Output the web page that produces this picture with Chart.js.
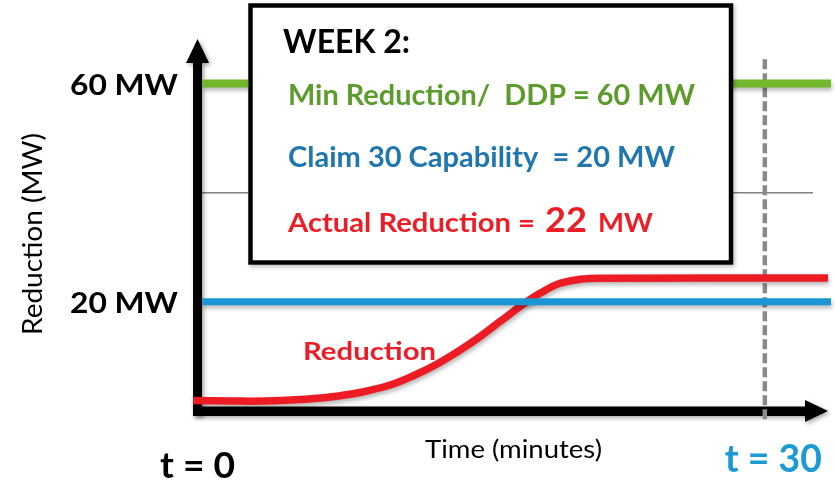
<!DOCTYPE html>
<html><head><meta charset="utf-8">
<script src="https://cdn.jsdelivr.net/npm/chart.js@4/dist/chart.umd.min.js"></script>
<style>html,body{margin:0;padding:0;background:#fff;overflow:hidden}</style>
</head><body>
<canvas id="c" width="835" height="484"></canvas>
<script>
// ---- data ----
const timeMinutes = [-0.24, 1.72, 3.57, 5.42, 7.01, 8.58, 10.18, 11.5, 12.67, 13.88, 14.94, 15.99, 17.21, 18.11, 19.17, 20.23, 21.29, 33.34];
const reductionMW = [1.92,  1.83, 1.83, 2.11, 2.57, 3.39, 4.76,  6.6,  8.61,  11.14, 13.63, 16.38, 19.54, 21.57, 23.4,  24.13, 24.33, 24.35];
const minReductionMW = 60;
const claim30MW = 20;
const gridMW = 40;
const levelSpanMinutes = [0.24, 33.5];
const gridSpanMinutes = [0, 32.55];
const deadlineMinutes = 30;
const deadlineSpanMW = [-1.5, 65];
const yTickValues = [60, 20];
const yTickLabels = ['60 MW', '20 MW'];
const xTickValues = [0, 30];
const xTickLabels = ['t = 0', 't = 30'];
const yTitle = 'Reduction (MW)';
const xTitle = 'Time (minutes)';
const curveLabel = 'Reduction';
const boxTitle = 'WEEK 2:';
const boxLine1 = 'Min Reduction/  DDP = 60 MW';
const boxLine2 = 'Claim 30 Capability  = 20 MW';
const boxLine3a = 'Actual Reduction =';
const boxLine3b = '22';
const boxLine3c = 'MW';

const F = 'Lato, "Open Sans", sans-serif';

function txt(ctx, s, x, base, font, color, w, align) {
  ctx.save();
  ctx.font = font; ctx.fillStyle = color; ctx.textBaseline = 'alphabetic'; ctx.textAlign = 'left';
  const m = ctx.measureText(s).width;
  const sx = w ? w / m : 1;
  let x0 = x;
  if (align === 'center') x0 = x - (w || m) / 2;
  if (align === 'right') x0 = x - (w || m);
  ctx.translate(x0, base); ctx.scale(sx, 1); ctx.fillText(s, 0, 0);
  ctx.restore();
}

const shadowSet = new Set([0, 1, 2]);
const decor = {
  id: 'decor',
  beforeDatasetsDraw(chart) {
    const {ctx, scales: {x, y}} = chart;
    ctx.save();
    ctx.strokeStyle = '#808080'; ctx.lineWidth = 1.5;
    ctx.beginPath();
    ctx.moveTo(x.getPixelForValue(gridSpanMinutes[0]), y.getPixelForValue(gridMW));
    ctx.lineTo(x.getPixelForValue(gridSpanMinutes[1]), y.getPixelForValue(gridMW));
    ctx.stroke();
    ctx.restore();
    const x0 = x.getPixelForValue(0), y0 = y.getPixelForValue(0);
    ctx.save();
    ctx.shadowColor = 'rgba(0,0,0,0.35)'; ctx.shadowBlur = 4; ctx.shadowOffsetX = 2; ctx.shadowOffsetY = 2;
    ctx.fillStyle = '#000';
    ctx.fillRect(x0 - 4.5, 60, 9, y0 + 5 - 60);
    ctx.beginPath(); ctx.moveTo(x0, 39); ctx.lineTo(x0 + 11.5, 63); ctx.lineTo(x0 - 11.5, 63); ctx.closePath(); ctx.fill();
    ctx.fillRect(x0 - 4.5, y0 - 4.5, 806 - (x0 - 4.5), 9.5);
    ctx.beginPath(); ctx.moveTo(828, y0); ctx.lineTo(805, y0 - 11); ctx.lineTo(805, y0 + 11); ctx.closePath(); ctx.fill();
    ctx.restore();
  },
  beforeDatasetDraw(chart, args) {
    const ctx = chart.ctx;
    ctx.save();
    if (shadowSet.has(args.index)) {
      ctx.shadowColor = 'rgba(0,0,0,0.28)'; ctx.shadowBlur = 4; ctx.shadowOffsetX = 1; ctx.shadowOffsetY = 3;
    }
  },
  afterDatasetDraw(chart) { chart.ctx.restore(); },
  afterDatasetsDraw(chart) {
    const {ctx} = chart;
    ctx.save();
    ctx.shadowColor = 'rgba(0,0,0,0.25)'; ctx.shadowBlur = 4; ctx.shadowOffsetX = 2; ctx.shadowOffsetY = 2;
    ctx.fillStyle = '#fff';
    ctx.fillRect(248, 3, 485, 262);
    ctx.shadowColor = 'rgba(0,0,0,0)';
    ctx.strokeStyle = '#000'; ctx.lineWidth = 4.5;
    ctx.strokeRect(250.5, 5.5, 480.5, 257);
    ctx.restore();
    txt(ctx, boxTitle, 283, 53, 'bold 32px ' + F, '#000', 127);
    txt(ctx, boxLine1, 288, 105, 'bold 28px ' + F, '#5c9c2c', 407);
    txt(ctx, boxLine2, 288, 167, 'bold 28px ' + F, '#1f77ad', 387);
    txt(ctx, boxLine3a, 288, 232, 'bold 27px ' + F, '#ee1c25', 247);
    txt(ctx, boxLine3b, 545, 232, 'bold 35px ' + F, '#ee1c25', 42);
    txt(ctx, boxLine3c, 598, 232, 'bold 27px ' + F, '#ee1c25', 55);
    txt(ctx, curveLabel, 303, 360, 'bold 25px ' + F, '#ee1c25', 133);
  },
  afterDraw(chart) {
    const {ctx, scales: {x, y}} = chart;
    yTickValues.forEach((v, i) => {
      txt(ctx, yTickLabels[i], 178, y.getPixelForValue(v) + 11.5, 'bold 29px ' + F, '#000', 108, 'right');
    });
    txt(ctx, xTickLabels[0], x.getPixelForValue(xTickValues[0]), 478, 'bold 36px ' + F, '#000', 75, 'center');
    txt(ctx, xTickLabels[1], x.getPixelForValue(xTickValues[1]) + 8.5, 472, 'bold 39px ' + F, '#1c9ad6', 97, 'center');
    txt(ctx, xTitle, 425, 458, '25px ' + F, '#000', 177);
    ctx.save();
    ctx.translate(42, 234); ctx.rotate(-Math.PI / 2);
    txt(ctx, yTitle, 0, 0, '26px ' + F, '#000', 202, 'center');
    ctx.restore();
  }
};

new Chart(document.getElementById('c'), {
  type: 'scatter',
  data: {
    datasets: [
      { label: 'Min Reduction / DDP', showLine: true, data: levelSpanMinutes.map(t => ({x: t, y: minReductionMW})),
        borderColor: '#72b82c', borderWidth: 8, pointRadius: 0, borderCapStyle: 'butt', clip: false },
      { label: 'Claim 30 Capability', showLine: true, data: levelSpanMinutes.map(t => ({x: t, y: claim30MW})),
        borderColor: '#1a96d4', borderWidth: 7, pointRadius: 0, borderCapStyle: 'butt', clip: false },
      { label: 'Reduction', showLine: true, data: timeMinutes.map((t, i) => ({x: t, y: reductionMW[i]})),
        borderColor: '#ed1c24', borderWidth: 7.5, pointRadius: 0, tension: 0.4,
        borderCapStyle: 'butt', borderJoinStyle: 'round', clip: false },
      { label: 't = 30', showLine: true, data: deadlineSpanMW.map(v => ({x: deadlineMinutes, y: v})),
        borderColor: '#8a8a8a', borderWidth: 4.5, borderDash: [10, 4], pointRadius: 0, clip: false }
    ]
  },
  options: {
    responsive: false, animation: false, devicePixelRatio: 1,
    layout: { padding: { left: 193, right: 4, top: 29, bottom: 73 } },
    plugins: { legend: { display: false }, tooltip: { enabled: false } },
    scales: {
      x: { type: 'linear', min: -0.24, max: 33.5, display: false },
      y: { type: 'linear', min: 0, max: 70, display: false }
    }
  },
  plugins: [decor]
});
</script>
</body></html>
